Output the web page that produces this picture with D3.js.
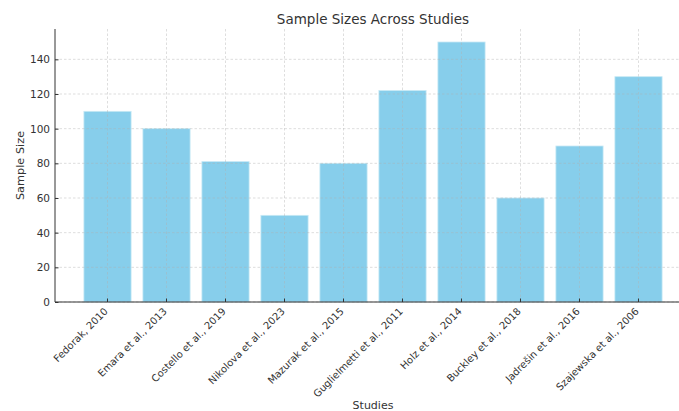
<!DOCTYPE html>
<html><head><meta charset="utf-8">
<script src="https://cdn.jsdelivr.net/npm/d3@7"></script>
<style>body{margin:0;background:#fff}svg{display:block}text{font-family:"DejaVu Sans",sans-serif;fill:#333}</style>
</head><body>
<script>
const studies = ["Fedorak, 2010","Emara et al., 2013","Costello et al., 2019","Nikolova et al., 2023","Mazurak et al., 2015","Guglielmetti et al., 2011","Holz et al., 2014","Buckley et al., 2018","Jadrešin et al., 2016","Szajewska et al., 2006"];
const sampleSizes = [110,100,81,50,80,122,150,60,90,130];
const yTicks = [0,20,40,60,80,100,120,140];

(function(){
const W=679,H=411;
const svg=d3.select("body").append("svg").attr("width",W).attr("height",H);
const mL=55,mR=691,mT=29,mB=302;
const n=studies.length;
const x=d3.scaleLinear().domain([-0.89,n-1+0.89]).range([mL,mR]);
const y=d3.scaleLinear().domain([0,157.5]).range([mB,mT]);
const bw=x(0.8)-x(0);

svg.append("g").selectAll("rect").data(sampleSizes).join("rect")
  .attr("x",(d,i)=>x(i)-bw/2).attr("width",bw)
  .attr("y",d=>y(d)).attr("height",d=>mB-y(d))
  .attr("fill","#87CEEB").attr("stroke","#c8e9f5").attr("stroke-width",0.8);

const grid=svg.append("g").attr("stroke","#b0b0b0").attr("stroke-opacity",0.6).attr("stroke-width",0.7).attr("stroke-dasharray","2.5,2");
grid.selectAll("line.h").data(yTicks).join("line").attr("class","h")
  .attr("x1",mL).attr("x2",mR).attr("y1",d=>y(d)).attr("y2",d=>y(d));
grid.selectAll("line.v").data(studies).join("line").attr("class","v")
  .attr("x1",(d,i)=>x(i)).attr("x2",(d,i)=>x(i)).attr("y1",mT).attr("y2",mB);

const yAxis=d3.axisLeft(y).tickValues(yTicks).tickSize(-3.5).tickPadding(5);
const gy=svg.append("g").attr("transform",`translate(${mL},0)`).call(yAxis);
gy.select(".domain").attr("d",`M0,${mT}V${mB}`).attr("stroke","#333").attr("stroke-width",1);
gy.selectAll(".tick line").attr("stroke","#333");
gy.selectAll("text").attr("font-size",10.5).style("fill","#333").attr("font-family","DejaVu Sans");

const gx=svg.append("g").attr("transform",`translate(0,${mB})`);
gx.append("line").attr("x1",mL).attr("x2",mR).attr("stroke","#333").attr("stroke-width",1);
gx.selectAll("line.t").data(studies).join("line").attr("class","t")
  .attr("x1",(d,i)=>x(i)).attr("x2",(d,i)=>x(i)).attr("y1",0).attr("y2",-3.5).attr("stroke","#333");
gx.selectAll("text").data(studies).join("text")
  .attr("transform",(d,i)=>`translate(${x(i)+1},${10}) rotate(-45)`)
  .attr("text-anchor","end").attr("font-size",10).text(d=>d);

svg.append("text").attr("x",(mL+mR)/2).attr("y",24).attr("text-anchor","middle").attr("font-size",13.5).text("Sample Sizes Across Studies");
svg.append("text").attr("x",(mL+mR)/2).attr("y",409).attr("text-anchor","middle").attr("font-size",11).text("Studies");
svg.append("text").attr("transform",`translate(24,${(mT+mB)/2}) rotate(-90)`).attr("text-anchor","middle").attr("font-size",11.3).text("Sample Size");
})();
</script>
</body></html>
